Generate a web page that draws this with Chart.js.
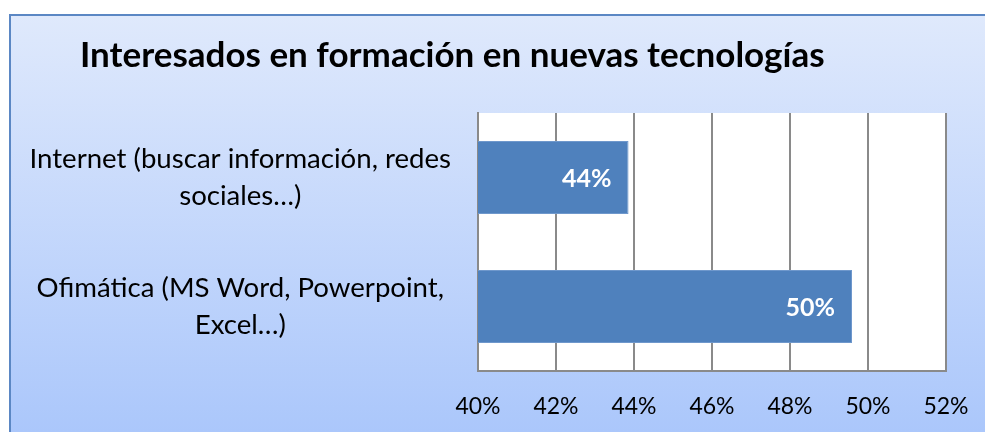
<!DOCTYPE html>
<html>
<head>
<meta charset="utf-8">
<script src="https://cdn.jsdelivr.net/npm/chart.js@4.4.0/dist/chart.umd.min.js"></script>
<style>
  html, body { margin: 0; padding: 0; background: #fff; }
  #wrap { position: relative; width: 985px; height: 432px; overflow: hidden; }
  #box {
    position: absolute; left: 9px; top: 14px; width: 1000px; height: 440px;
    border: 2px solid #5b87c4;
    background: linear-gradient(to bottom, #dfe9fc 0%, #a8c5fb 100%);
  }
  #chart { position: absolute; left: 0; top: 0; }
</style>
</head>
<body>
<div id="wrap">
  <div id="box"></div>
  <canvas id="chart" width="985" height="432"></canvas>
</div>
<script>
const chartTitle = "Interesados en formación en nuevas tecnologías";
const categories = [
  ["Internet (buscar información, redes", "sociales…)"],
  ["Ofimática (MS Word, Powerpoint,", "Excel…)"]
];
const values = [43.86, 49.59];
const tickMin = 40;
const tickMax = 52;
const tickStep = 2;

const font = "Lato";
const gridColor = "#8a8a8a";
const noTick = "rgba(0,0,0,0)";

// white plot area behind the bars
const plotBackground = {
  id: "plotBackground",
  beforeDraw(chart) {
    const { ctx, chartArea } = chart;
    ctx.save();
    ctx.fillStyle = "#ffffff";
    ctx.fillRect(chartArea.left, chartArea.top, chartArea.right - chartArea.left, chartArea.bottom - chartArea.top);
    ctx.restore();
  }
};

const titleText = {
  id: "titleText",
  afterDraw(chart) {
    const ctx = chart.ctx;
    ctx.save();
    ctx.font = "bold 35px " + font;
    ctx.fillStyle = "#000";
    ctx.textAlign = "left";
    ctx.textBaseline = "alphabetic";
    ctx.fillText(chartTitle, 80, 67);
    ctx.restore();
  }
};

// value labels inside the end of each bar
const barLabels = {
  id: "barLabels",
  afterDatasetsDraw(chart) {
    const ctx = chart.ctx;
    const meta = chart.getDatasetMeta(0);
    ctx.save();
    ctx.font = "bold 25px " + font;
    ctx.fillStyle = "#ffffff";
    ctx.textAlign = "right";
    ctx.textBaseline = "middle";
    meta.data.forEach((bar, i) => {
      ctx.fillText(Math.round(values[i]) + "%", bar.x - 17, bar.y + 1);
    });
    ctx.restore();
  }
};

new Chart(document.getElementById("chart"), {
  type: "bar",
  data: {
    labels: categories,
    datasets: [{
      data: values,
      backgroundColor: "#4f81bd",
      borderColor: "#6f98cc",
      borderWidth: 1,
      categoryPercentage: 1,
      barPercentage: 0.564
    }]
  },
  options: {
    indexAxis: "y",
    responsive: false,
    animation: false,
    layout: { padding: { left: 10, right: 39, top: 113, bottom: 0 } },
    plugins: {
      legend: { display: false },
      tooltip: { enabled: false }
    },
    scales: {
      x: {
        min: tickMin,
        max: tickMax,
        afterFit(scale) { scale.height = 61; },
        ticks: {
          stepSize: tickStep,
          padding: 0,
          color: "#000",
          font: { family: font, size: 23 },
          callback: v => v + "%"
        },
        // invisible tick marks give the gap under the axis
        grid: { color: gridColor, lineWidth: 2, drawTicks: true, tickLength: 22, tickColor: noTick },
        border: { display: true, color: gridColor, width: 2 }
      },
      y: {
        afterFit(scale) { scale.width = 468; },
        ticks: {
          crossAlign: "center",
          padding: 0,
          color: "#000",
          font: { family: font, size: 27.6, lineHeight: 1.34 }
        },
        grid: { display: false, drawTicks: true, tickLength: 27, tickColor: noTick },
        border: { display: true, color: gridColor, width: 2 }
      }
    }
  },
  plugins: [plotBackground, titleText, barLabels]
});
</script>
</body>
</html>
